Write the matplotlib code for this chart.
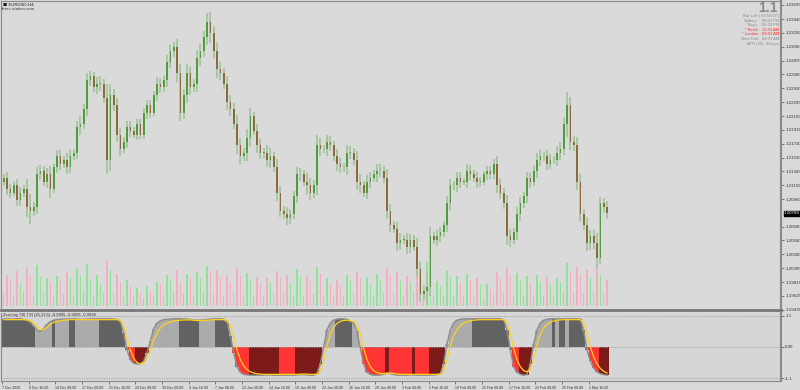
import matplotlib.pyplot as plt
import numpy as np

# EURUSD H4, three candles per trading day (7 Dec 2020 .. 3 Mar 2021)
first_open = 1.2120
closes = [
    1.2125, 1.2110, 1.2105, 1.2115, 1.2095, 1.2105, 1.2110, 1.2085, 1.2080,
    1.2085, 1.2130, 1.2135, 1.2120, 1.2130, 1.2110, 1.2140, 1.2155, 1.2145,
    1.2150, 1.2140, 1.2155, 1.2160, 1.2195, 1.2200, 1.2220, 1.2260, 1.2265,
    1.2250, 1.2255, 1.2255, 1.2235, 1.2150, 1.2240, 1.2225, 1.2185, 1.2165,
    1.2175, 1.2195, 1.2190, 1.2185, 1.2200, 1.2185, 1.2215, 1.2225, 1.2215,
    1.2240, 1.2255, 1.2250, 1.2260, 1.2285, 1.2300, 1.2305, 1.2270, 1.2215,
    1.2240, 1.2270, 1.2250, 1.2255, 1.2290, 1.2300, 1.2320, 1.2340, 1.2325,
    1.2300, 1.2275, 1.2270, 1.2255, 1.2230, 1.2220, 1.2200, 1.2170, 1.2155,
    1.2160, 1.2180, 1.2210, 1.2190, 1.2170, 1.2160, 1.2160, 1.2150, 1.2155,
    1.2140, 1.2105, 1.2080, 1.2075, 1.2070, 1.2075, 1.2100, 1.2130, 1.2130,
    1.2120, 1.2115, 1.2105, 1.2115, 1.2170, 1.2165, 1.2165, 1.2175, 1.2170,
    1.2155, 1.2145, 1.2140, 1.2140, 1.2160, 1.2160, 1.2150, 1.2120, 1.2115,
    1.2105, 1.2120, 1.2125, 1.2130, 1.2135, 1.2135, 1.2125, 1.2080, 1.2060,
    1.2055, 1.2035, 1.2040, 1.2040, 1.2030, 1.2040, 1.2030, 1.2000, 1.1965,
    1.1970, 1.1975, 1.2045, 1.2040, 1.2045, 1.2050, 1.2060, 1.2090, 1.2115,
    1.2115, 1.2125, 1.2120, 1.2120, 1.2135, 1.2130, 1.2125, 1.2120, 1.2120,
    1.2130, 1.2135, 1.2130, 1.2145, 1.2115, 1.2105, 1.2090, 1.2045, 1.2040,
    1.2050, 1.2075, 1.2090, 1.2100, 1.2125, 1.2120, 1.2135, 1.2150, 1.2155,
    1.2155, 1.2145, 1.2150, 1.2150, 1.2160, 1.2165, 1.2200, 1.2225, 1.2175,
    1.2170, 1.2120, 1.2075, 1.2060, 1.2035, 1.2045, 1.2035, 1.2015, 1.2090,
    1.2085, 1.2077,
]
wick_pips = [
    6, 8, 7, 5, 9, 8, 6, 14, 18, 7, 10, 8, 6, 9, 12, 5, 8, 9, 6, 10, 8,
    5, 9, 11, 7, 10, 8, 6, 9, 10, 7, 20, 15, 8, 10, 9, 6, 9, 8, 5, 7, 6,
    6, 8, 7, 5, 9, 8, 6, 10, 9, 8, 12, 12, 8, 12, 10, 7, 11, 10, 8, 12, 14,
    9, 12, 10, 7, 11, 9, 8, 12, 10, 7, 12, 11, 6, 10, 9, 7, 10, 11, 6, 11, 9,
    6, 10, 8, 7, 10, 9, 6, 12, 10, 7, 14, 10, 6, 9, 8, 6, 10, 8, 6, 11, 9,
    7, 12, 10, 6, 9, 8, 6, 10, 9, 7, 12, 9, 6, 10, 9, 6, 9, 8, 6, 12, 10,
    8, 18, 12, 6, 9, 8, 6, 10, 9, 6, 9, 8, 5, 9, 8, 6, 8, 7, 5, 7, 6,
    6, 10, 9, 7, 12, 10, 6, 10, 9, 6, 9, 8, 6, 10, 8, 6, 9, 8, 6, 9, 10,
    8, 18, 12, 8, 11, 10, 7, 11, 9, 8, 14, 9, 8, 9,
]
volumes = [
    12, 30, 26, 10, 34, 22, 14, 38, 30, 11, 40, 28, 13, 27, 24, 9, 29, 25,
    12, 33, 27, 10, 36, 30, 15, 41, 26, 11, 30, 22, 14, 44, 35, 12, 31, 24,
    10, 26, 20, 9, 18, 12, 8, 20, 16, 10, 24, 22, 11, 30, 26, 13, 35, 24,
    12, 31, 28, 11, 33, 27, 14, 39, 34, 12, 35, 28, 10, 30, 24, 13, 37, 29,
    11, 32, 26, 10, 28, 22, 9, 27, 24, 12, 34, 29, 13, 30, 23, 11, 36, 28,
    10, 29, 25, 12, 38, 31, 10, 27, 22, 11, 26, 21, 9, 30, 25, 12, 33, 27,
    10, 28, 22, 11, 31, 26, 13, 37, 30, 12, 33, 25, 10, 29, 24, 13, 40, 33,
    14, 43, 36, 10, 25, 20, 11, 34, 28, 10, 29, 23, 9, 31, 26, 11, 27, 21,
    8, 22, 17, 11, 33, 27, 13, 38, 30, 10, 32, 26, 11, 29, 23, 9, 30, 24,
    10, 28, 22, 10, 27, 24, 14, 42, 34, 13, 38, 31, 12, 35, 27, 14, 39, 30,
    12, 26,
]

# Zero lag TSI panel
tsi = [
    1.00, 1.00, 0.99, 0.99, 1.00, 1.00, 0.98, 0.95, 0.88,
    0.75, 0.60, 0.55, 0.65, 0.80, 0.90, 0.95, 0.97,
    0.98, 0.99, 0.99, 1.00, 1.00, 0.99, 0.98, 0.98, 0.99, 1.00, 1.00, 1.00,
    1.00, 1.00, 1.00, 1.00, 0.99, 0.98,
    0.90, 0.50, -0.10, -0.45, -0.58, -0.60, -0.60, -0.50, -0.20, 0.20, 0.65,
    0.85, 0.93, 0.97,
    0.98, 0.99, 1.00, 1.00, 1.00, 1.00, 0.99, 0.98, 0.96, 0.95, 0.95, 0.96,
    0.98, 0.99, 1.00, 1.00, 1.00, 0.99,
    0.90, 0.40, -0.20, -0.70, -0.90, -0.97,
    -0.99, -1.00, -1.00, -1.00, -1.00, -1.00, -0.99, -0.99, -1.00, -1.00,
    -1.00, -1.00, -1.00, -1.00, -1.00, -0.99, -0.98, -0.98, -0.99, -1.00,
    -1.00, -0.95,
    -0.60, 0.00, 0.60, 0.85, 0.95, 0.99, 1.00, 1.00, 0.98, 0.92, 0.85, 0.55,
    -0.05, -0.60, -0.90, -0.97, -1.00, -1.00, -0.99, -0.97,
    -0.92, -0.94, -0.98, -1.00, -1.00, -1.00, -1.00, -0.99, -0.99, -1.00,
    -1.00, -1.00, -1.00, -1.00, -0.99, -0.98, -0.95,
    -0.60, 0.10, 0.60, 0.85, 0.95,
    0.98, 1.00, 1.00, 1.00, 1.00, 1.00, 1.00, 1.00, 1.00, 1.00, 1.00, 1.00,
    1.00, 0.97,
    0.60, -0.10, -0.70, -0.90, -0.97, -1.00, -0.98, -0.60, 0.10, 0.60, 0.85,
    0.95,
    0.98, 1.00, 1.00, 1.00, 1.00, 1.00, 1.00, 1.00, 1.00, 1.00, 0.98,
    0.60, -0.10, -0.50, -0.75, -0.88, -0.95, -0.98, -1.00,
]
signal = [
    0.97, 0.97, 0.97, 0.97, 0.97, 0.97, 0.97, 0.96, 0.93,
    0.85, 0.72, 0.62, 0.62, 0.70, 0.80, 0.87, 0.91,
    0.93, 0.95, 0.96, 0.97, 0.97, 0.97, 0.97, 0.97, 0.97, 0.97, 0.97, 0.97,
    0.97, 0.97, 0.97, 0.97, 0.97, 0.97,
    0.95, 0.75, 0.30, -0.10, -0.40, -0.55, -0.60, -0.57, -0.40, -0.10, 0.25,
    0.50, 0.67, 0.78,
    0.85, 0.89, 0.92, 0.94, 0.95, 0.96, 0.96, 0.96, 0.95, 0.94, 0.94, 0.94,
    0.95, 0.96, 0.97, 0.97, 0.97, 0.97,
    0.95, 0.75, 0.35, -0.10, -0.45, -0.67,
    -0.80, -0.88, -0.92, -0.95, -0.96, -0.97, -0.97, -0.97, -0.97, -0.97,
    -0.97, -0.97, -0.97, -0.97, -0.97, -0.97, -0.96, -0.96, -0.96, -0.97,
    -0.97, -0.96,
    -0.85, -0.50, 0.05, 0.45, 0.70, 0.84, 0.91, 0.94, 0.95, 0.94, 0.90, 0.80,
    0.45, -0.05, -0.45, -0.70, -0.84, -0.91, -0.94, -0.95,
    -0.93, -0.92, -0.94, -0.96, -0.97, -0.97, -0.97, -0.97, -0.97, -0.97,
    -0.97, -0.97, -0.97, -0.97, -0.97, -0.97, -0.96,
    -0.85, -0.45, 0.05, 0.40, 0.62,
    0.76, 0.85, 0.90, 0.93, 0.95, 0.96, 0.97, 0.97, 0.97, 0.97, 0.97, 0.97,
    0.97, 0.97,
    0.85, 0.45, -0.05, -0.45, -0.70, -0.84, -0.88, -0.80, -0.40, 0.10, 0.45,
    0.68,
    0.80, 0.88, 0.92, 0.95, 0.96, 0.97, 0.97, 0.97, 0.97, 0.97, 0.97,
    0.85, 0.45, 0.00, -0.35, -0.60, -0.76, -0.86, -0.92,
]
# d = dark grey, l = light grey, r = red, m = dark red
tsi_shade = (
    "dddddddddd" "lllll" "d" "llll" "dd" "lllllll" "dddddddd"
    "rrr" "mmmm"
    "lllllllll" "dddddd" "lllll" "ddddd"
    "rrrrr" "mmmmmmmmm" "rrrrr" "mmmmmmmm"
    "llll" "ddddd" "ll"
    "rrrrrrrr" "m" "rrrrrrr" "m" "rrrr" "mmmmm"
    "llllllll" "ddddddddddd"
    "rrr" "mmmm"
    "llllll" "dlddld" "dddd"
    "rrrr" "mmm"
)

tick_labels = ["7 Dec 2020", "9 Dec 16:00", "14 Dec 08:00", "17 Dec 00:00",
               "21 Dec 16:00", "24 Dec 08:00", "30 Dec 00:00", "4 Jan 16:00",
               "7 Jan 08:00", "12 Jan 00:00", "14 Jan 16:00", "19 Jan 08:00",
               "22 Jan 00:00", "26 Jan 16:00", "29 Jan 08:00", "3 Feb 00:00",
               "5 Feb 16:00", "10 Feb 08:00", "15 Feb 00:00", "17 Feb 16:00",
               "22 Feb 08:00", "25 Feb 00:00", "1 Mar 16:00"]
price_ticks = [1.23635, 1.23440, 1.23250, 1.23060, 1.22870, 1.22680, 1.22490,
               1.22295, 1.22105, 1.21915, 1.21720, 1.21530, 1.21345, 1.21150,
               1.20960, 1.20580, 1.20390, 1.20200, 1.20005, 1.19815, 1.19625,
               1.19435]
last_price = 1.20768

sessions = [("Bar Left", "[ 00:56:07 ]", "#8c8c8c"),
            ("Sydney", "08:03 PM", "#8c8c8c"),
            ("Tokyo", "06:03 PM", "#8c8c8c"),
            ("* Berlin", "10:03 AM", "#ff3030"),
            ("* London", "09:03 AM", "#ff3030"),
            ("New York", "04:03 AM", "#8c8c8c")]

W, H = 800, 390
fig = plt.figure(figsize=(W / 100, H / 100), dpi=100)
fig.patch.set_facecolor('#dadada')
font = 'Liberation Sans'

def box(x0, y0, x1, y1):
    return [x0 / W, 1 - y1 / H, (x1 - x0) / W, (y1 - y0) / H]

# price panel
ax = fig.add_axes(box(1, 1, 781, 310))
n = len(closes)
x = np.arange(n)
opens = [first_open] + closes[:-1]
pip = 0.0001

# volumes underneath the candles
axv = ax.twinx()
axv.set_ylim(-4, 300)
axv.axis('off')
vcol = ['#8fe398' if c >= o else '#f0b0c0' for o, c in zip(opens, closes)]
axv.bar(x, volumes, width=0.4, color=vcol, linewidth=0)
ax.set_zorder(axv.get_zorder() + 1)
ax.patch.set_visible(False)
axv.patch.set_visible(True)
axv.patch.set_facecolor('#e6e6e6')

for i in range(n):
    o, c = opens[i], closes[i]
    hi = max(o, c) + wick_pips[i] * pip
    lo = min(o, c) - wick_pips[i] * pip
    ax.vlines(i, lo, hi, color='#a3c59c', lw=1.3, zorder=2)
    col = '#4f9c3c' if c >= o else '#8a6b3e'
    ax.bar(i, max(abs(c - o), 0.4 * pip), bottom=min(o, c), width=0.5,
           color=col, linewidth=0, zorder=3)

ax.set_xlim(-0.8, 233.2)
ax.set_ylim(1.19432, 1.23690)
ax.set_xticks([])
ax.yaxis.tick_right()
ax.set_yticks(price_ticks)
ax.set_yticklabels(['%.5f' % p for p in price_ticks])
ax.tick_params(axis='y', labelsize=3.2, length=2, width=0.5, pad=1,
               colors='#505050', labelcolor='#303030')
for lab in ax.get_yticklabels():
    lab.set_family(font)
for s in ['left', 'top']:
    ax.spines[s].set_color('#8a8a8a')
    ax.spines[s].set_linewidth(0.8)
ax.spines['right'].set_color('#8a8a8a')
ax.spines['right'].set_linewidth(1.5)
ax.spines['bottom'].set_color('#777777')
ax.spines['bottom'].set_linewidth(2)
ax.text(1.004, last_price, '%.5f' % last_price, transform=ax.get_yaxis_transform(),
        fontsize=3.2, family=font, color='white', va='center', ha='left',
        bbox=dict(fc='black', ec='black', pad=0.4))

# header texts
fig.text(3 / W, 1 - 4.5 / H, '\u25a0 EURUSD,H4', fontsize=3.2, family='DejaVu Sans',
         color='#202020', va='center')
fig.text(2 / W, 1 - 9 / H, 'forex-station.com', fontsize=3.2, family=font,
         color='#404040', va='center')
fig.text(778 / W, 1 - 8 / H, '1.1', fontsize=10, fontweight='bold', family=font,
         color='#8a8a8a', ha='right', va='center')
for k, (name, t, col) in enumerate(sessions):
    yy = 1 - (16 + 4.6 * k) / H
    fig.text(758 / W, yy, name, fontsize=3, family=font, color=col, ha='right',
             va='center')
    fig.text(779 / W, yy, t, fontsize=3, family=font, color=col, ha='right',
             va='center')
fig.text(779 / W, 1 - 43.6 / H, 'ATR (20): 83 pips', fontsize=3, family=font,
         color='#8c8c8c', ha='right', va='center')

# indicator panel
ax2 = fig.add_axes(box(1, 313, 781, 381))
ax2.set_facecolor('#d6d6d6')
shade_col = {'d': '#626262', 'l': '#ababab', 'r': '#ff3535', 'm': '#7d1b1b'}
ax2.bar(x, tsi, width=1.0, color=[shade_col[s] for s in tsi_shade], linewidth=0)
ax2.plot(x, tsi, color='#8e8e8e', lw=1.1, solid_joinstyle='round')
ax2.plot(x, signal, color='#ffd21a', lw=0.9)
for lvl in (1.1, 0.0, -1.1):
    ax2.axhline(lvl, color='#9a9a9a', lw=0.6, ls=(0, (1.5, 1.5)))
ax2.set_xlim(-0.8, 233.2)
ax2.set_ylim(-1.206, 1.206)
ax2.yaxis.tick_right()
ax2.set_yticks([1.1, 0.0, -1.1])
ax2.set_yticklabels(['1.1', '0.00', '-1.1'])
ax2.tick_params(axis='y', labelsize=3.2, length=2, width=0.5, pad=1,
                colors='#505050', labelcolor='#303030')
ax2.set_xticks([8 * i - 0.5 for i in range(len(tick_labels))])
ax2.set_xticklabels(tick_labels, ha='left')
ax2.tick_params(axis='x', labelsize=2.6, length=2, width=0.5, pad=1.5,
                colors='#505050', labelcolor='#303030')
for lab in ax2.get_xticklabels() + ax2.get_yticklabels():
    lab.set_family(font)
for s in ['left', 'bottom']:
    ax2.spines[s].set_color('#8a8a8a')
    ax2.spines[s].set_linewidth(0.8)
ax2.spines['top'].set_visible(False)
ax2.spines['right'].set_color('#8a8a8a')
ax2.spines['right'].set_linewidth(1.5)
ax2.text(2 / 780, 1.12, 'Zero lag TSI TSI (25,13,5) -0.9995 -0.9995 -0.9936',
         transform=ax2.get_yaxis_transform(), fontsize=3, family=font,
         color='#303030', va='center')

fig.savefig('out.png', dpi=100, facecolor=fig.get_facecolor())
